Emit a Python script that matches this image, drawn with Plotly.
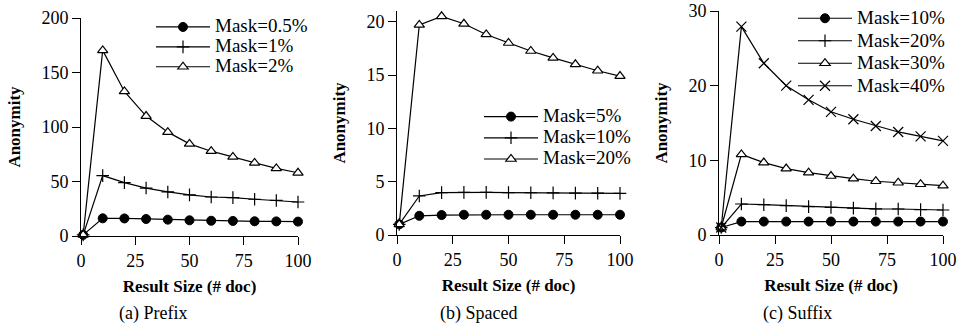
import plotly.graph_objects as go

# Result sizes (# doc) shared by all three panels
result_size = [1, 10, 20, 30, 40, 50, 60, 70, 80, 90, 100]

# (a) Prefix masking
prefix_labels = ["Mask=0.5%", "Mask=1%", "Mask=2%"]
prefix_m05 = [1, 16.2, 16.1, 15.6, 15.0, 14.4, 14.0, 13.8, 13.5, 13.4, 13.2]
prefix_m1 = [1, 55.4, 49.0, 44.0, 40.4, 37.7, 35.8, 35.2, 33.7, 32.6, 31.2]
prefix_m2 = [1, 170.3, 132.6, 110.0, 95.3, 84.5, 77.8, 72.6, 67.0, 62.0, 58.0]

# (b) Spaced masking
spaced_labels = ["Mask=5%", "Mask=10%", "Mask=20%"]
spaced_m5 = [1, 1.8, 1.87, 1.9, 1.9, 1.9, 1.9, 1.9, 1.9, 1.9, 1.9]
spaced_m10 = [1, 3.66, 3.97, 4.0, 4.0, 3.98, 3.96, 3.95, 3.93, 3.92, 3.9]
spaced_m20 = [1, 19.7, 20.5, 19.8, 18.8, 18.0, 17.25, 16.6, 16.0, 15.4, 14.9]

# (c) Suffix masking
suffix_labels = ["Mask=10%", "Mask=20%", "Mask=30%", "Mask=40%"]
suffix_m10 = [1, 1.8, 1.8, 1.8, 1.8, 1.8, 1.8, 1.8, 1.8, 1.8, 1.8]
suffix_m20 = [1, 4.15, 4.06, 3.93, 3.8, 3.7, 3.6, 3.5, 3.48, 3.4, 3.35]
suffix_m30 = [1, 10.8, 9.7, 8.9, 8.35, 7.9, 7.55, 7.2, 7.0, 6.8, 6.6]
suffix_m40 = [1, 27.9, 23.0, 20.0, 18.1, 16.5, 15.5, 14.6, 13.8, 13.2, 12.6]

x_ticks = [0, 25, 50, 75, 100]

FONT = "Liberation Serif"
W, H = 958, 327

circle = dict(symbol="circle", size=9, color="black", line=dict(color="black", width=1))
plus = dict(symbol="cross-thin", size=9, color="black", line=dict(color="black", width=1.2))
tri = dict(symbol="triangle-up", size=9, color="white", line=dict(color="black", width=1.2))
cross = dict(symbol="x-thin", size=10, color="black", line=dict(color="black", width=1.2))

fig = go.Figure()


def legend_label(text):
    # legend rows are spaced by the legend font size; the label itself is drawn larger
    return "<span style='font-size:19px'>" + text + "</span>"


def add(ys, name, marker, ax, legend):
    fig.add_trace(go.Scatter(
        x=result_size, y=ys, name=legend_label(name), mode="lines+markers",
        line=dict(color="black", width=1.2), marker=marker,
        xaxis="x" + ax, yaxis="y" + ax, legend=legend, cliponaxis=False,
    ))


add(prefix_m05, prefix_labels[0], circle, "", "legend")
add(prefix_m1, prefix_labels[1], plus, "", "legend")
add(prefix_m2, prefix_labels[2], tri, "", "legend")

add(spaced_m5, spaced_labels[0], circle, "2", "legend2")
add(spaced_m10, spaced_labels[1], plus, "2", "legend2")
add(spaced_m20, spaced_labels[2], tri, "2", "legend2")

add(suffix_m10, suffix_labels[0], circle, "3", "legend3")
add(suffix_m20, suffix_labels[1], plus, "3", "legend3")
add(suffix_m30, suffix_labels[2], tri, "3", "legend3")
add(suffix_m40, suffix_labels[3], cross, "3", "legend3")


def px_x(p):
    return p / W


def px_y(p):
    return 1 - p / H


tick_font = dict(family=FONT, size=18, color="black")
title_font = dict(family=FONT, size=17, color="black", weight="bold")

common_x = dict(
    range=[0, 100], tickvals=x_ticks, ticks="outside", ticklen=8, tickwidth=1,
    tickcolor="black", showline=True, linecolor="black", linewidth=1,
    showgrid=False, zeroline=False, tickfont=tick_font, automargin=False,
    title=dict(text="Result Size (# doc)", font=title_font, standoff=10),
)
common_y = dict(
    ticks="outside", ticklen=8, tickwidth=1, tickcolor="black",
    showline=True, linecolor="black", linewidth=1, showgrid=False,
    zeroline=False, tickfont=tick_font, automargin=False,
    title=dict(text="Anonymity", font=title_font, standoff=16),
)

panels = [
    # x-left, x-right, y-top, y-bottom (pixels), y range, y ticks
    ("", 81, 298, 18, 236, [0, 200], [0, 50, 100, 150, 200]),
    ("2", 397, 620, 11, 235, [0, 21], [0, 5, 10, 15, 20]),
    ("3", 719, 943, 11, 235, [0, 30], [0, 10, 20, 30]),
]

layout = dict(
    template="none",
    width=W, height=H, margin=dict(l=0, r=0, t=0, b=0, autoexpand=False),
    paper_bgcolor="white", plot_bgcolor="white",
    font=dict(family=FONT, color="black"),
)
for ax, xl, xr, yt, yb, yr, yt_vals in panels:
    layout["xaxis" + ax] = dict(common_x, domain=[px_x(xl), px_x(xr)], anchor="y" + ax)
    layout["yaxis" + ax] = dict(common_y, domain=[px_y(yb), px_y(yt)], anchor="x" + ax,
                                range=yr, tickvals=yt_vals)

legend_common = dict(
    bgcolor="rgba(0,0,0,0)", borderwidth=0, itemwidth=54, tracegroupgap=0,
    xanchor="left", yanchor="top", itemclick=False, itemdoubleclick=False,
)
layout["legend"] = dict(legend_common, font=dict(family=FONT, size=13, color="black"),
                        x=px_x(151), y=px_y(12))
layout["legend2"] = dict(legend_common, font=dict(family=FONT, size=14, color="black"),
                         x=px_x(479), y=px_y(101))
layout["legend3"] = dict(legend_common, font=dict(family=FONT, size=15, color="black"),
                         x=px_x(793), y=px_y(2))

fig.update_layout(**layout)

subtitles = [("(a) Prefix", 153), ("(b) Spaced", 478), ("(c) Suffix", 797)]
for text, cx in subtitles:
    fig.add_annotation(
        text=text, x=px_x(cx), y=px_y(313), xref="paper", yref="paper",
        showarrow=False, xanchor="center", yanchor="middle",
        font=dict(family=FONT, size=18, color="black"),
    )

fig.write_html("out.html")
